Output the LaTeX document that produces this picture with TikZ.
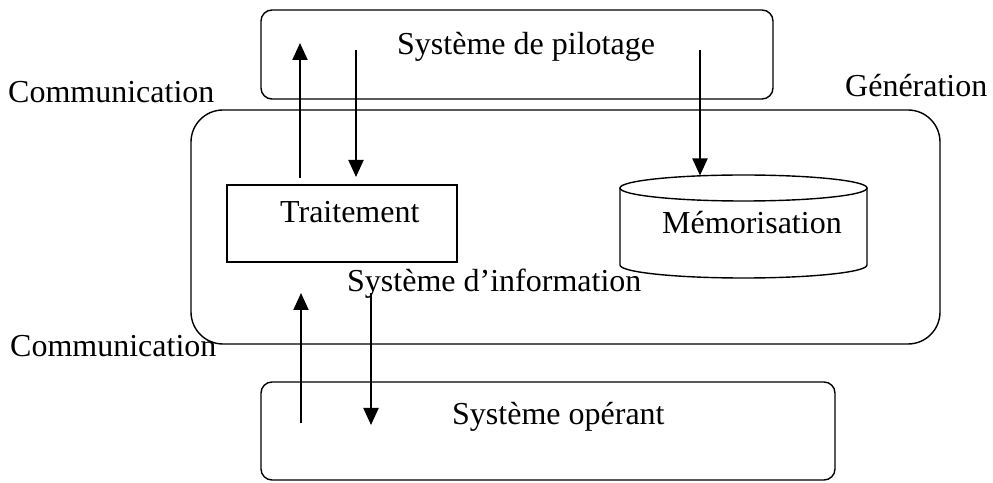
\documentclass[tikz,border=0pt]{standalone}
\usepackage{fontspec}
\setmainfont{Liberation Serif}
\usetikzlibrary{arrows.meta}
\begin{document}
\begin{tikzpicture}[x=1pt,y=1pt,
  every node/.style={font=\fontsize{32}{38}\selectfont},
  txt/.style={anchor=base west,inner sep=0pt},
  sysbox/.style={draw,line width=1.4pt,rounded corners=#1,inner sep=0pt},
  flow/.style={line width=2pt,-{Triangle[length=17pt,width=15pt]}}]
\useasboundingbox (0,0) rectangle (993,482);

% frames
\node[sysbox=11pt,minimum width=512pt,minimum height=89pt] (pilot) at (517,427.5) {};
\node[sysbox=32pt,minimum width=749pt,minimum height=234pt] (si) at (565.5,255) {};
\node[draw,line width=1.4pt,inner sep=0pt,minimum width=230pt,minimum height=77pt] (trait) at (342,258.5) {};
\node[sysbox=11pt,minimum width=574pt,minimum height=98pt] (oper) at (548,51) {};

% storage cylinder
\draw[line width=1.4pt] (620,294) -- (620,217)
  arc[start angle=180,end angle=360,x radius=123.5,y radius=13] -- (867,294);
\draw[line width=1.4pt] (743.5,294) ellipse[x radius=123.5,y radius=13];
\coordinate (mem) at (700,306.5);

% texts
\node[txt] (tpilot) at (397,427) {Système de pilotage};
\node[txt] (comm1) at (8,379) {Communication};
\node[txt] (gen) at (845,385) {Génération};
\node[txt] (comm2) at (10,125) {Communication};
\node[txt] (ttrait) at (280,259) {Traitement};
\node[txt] (tmem) at (662,248) {Mémorisation};
\node[txt] (tsi) at (347,190) {Système d’information};
\node[txt] (toper) at (452,58) {Système opérant};

% flow ends
\coordinate (a1s) at (300,304);  \coordinate (a1e) at (300,439);
\coordinate (a2s) at (356,432);  \coordinate (a2e) at (356,305);
\coordinate (a3s) at (700,432);
\coordinate (a4s) at (301,59);   \coordinate (a4e) at (301,189);
\coordinate (a5s) at (371,189);  \coordinate (a5e) at (371,57);

\draw[flow] (a1s) -- (a1e);
\draw[flow] (a2s) -- (a2e);
\draw[flow] (a3s) -- (mem);
\draw[flow] (a4s) -- (a4e);
\draw[flow] (a5s) -- (a5e);
\end{tikzpicture}
\end{document}
